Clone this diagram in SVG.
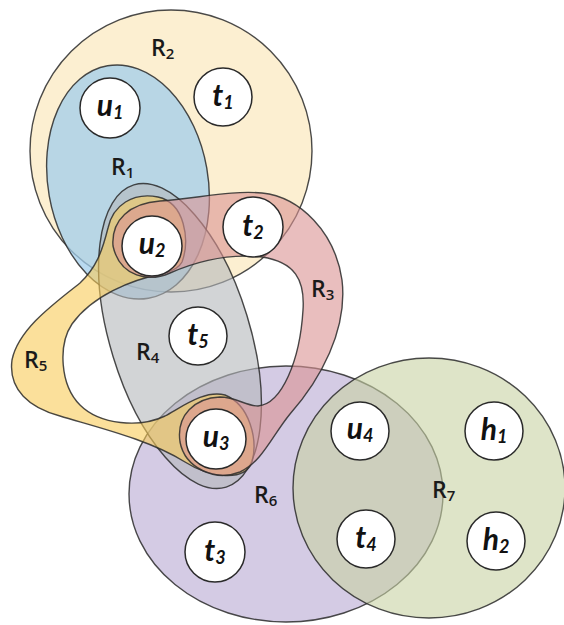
<svg xmlns="http://www.w3.org/2000/svg" width="564" height="625" viewBox="0 0 564 625">
<style>
.reg{stroke:#2a2a2a;stroke-width:1.4;stroke-opacity:0.85;fill-opacity:0.6}
.nd{fill:#ffffff;stroke:#2a2a2a;stroke-width:1.5}
.nl{font-family:Lato,"Open Sans",sans-serif;font-weight:bold;font-style:italic;font-size:30px;fill:#111;text-anchor:middle}
.nl tspan{font-size:18px}
.rl{font-family:"Open Sans",Lato,sans-serif;font-size:23px;font-weight:600;fill:#1a1a1a}
.rl tspan{font-size:15px}
</style>
<rect width="564" height="625" fill="#ffffff"/>
<g id="regions">
<g id="R2"><circle class="reg" cx="171" cy="151" r="141" fill="#fae6b8" style="fill-opacity:0.65"/></g>
<g id="R1"><ellipse class="reg" cx="128" cy="182" rx="80" ry="118" transform="rotate(-10 128 182)" fill="#a1cdeb" style="fill-opacity:0.75"/></g>
<g id="R6"><ellipse class="reg" cx="286" cy="494" rx="157" ry="128" fill="#b7a8d2"/></g>
<g id="R4"><ellipse class="reg" cx="180" cy="336" rx="70" ry="158" transform="rotate(-17 180 336)" fill="#b4b7ba"/></g>
<g id="R5"><path class="reg" fill="#f9cb58" d="M182,262 C190,240 185,203 158,197 C133,192 113,205 108,228 C102,252 96,268 80,283 C52,305 18,330 12,360 C8,390 30,408 60,416 C100,428 150,440 185,462 C210,478 245,482 252,462 C258,440 250,405 225,395 C205,390 185,405 165,416 C140,428 100,425 80,405 C60,385 58,345 72,324 C92,296 130,280 165,273 C175,270 180,266 182,262 Z"/></g>
<g id="R3"><path class="reg" fill="#da9393" d="M113,246 C111,220 130,203 160,201 C195,199 230,190 262,193 C300,197 335,232 342,280 C348,330 320,380 290,414 C272,436 262,462 240,472 C215,482 185,468 180,442 C176,415 195,398 220,397 C236,397 246,406 258,406 C282,404 300,360 303,310 C305,280 295,262 262,257 C225,253 195,262 170,273 C150,282 120,278 113,246 Z"/></g>
<g id="R7"><ellipse class="reg" cx="429" cy="488" rx="136" ry="130" fill="#c8d2a3"/></g>
</g>
<g id="nodes">
<g id="u1"><circle class="nd" cx="110" cy="108" r="30"/><text class="nl" x="110" y="116">u<tspan dy="3">1</tspan></text></g>
<g id="t1"><circle class="nd" cx="223" cy="97" r="29"/><text class="nl" x="223" y="106">t<tspan dy="3">1</tspan></text></g>
<g id="u2"><circle class="nd" cx="152" cy="246" r="30"/><text class="nl" x="152" y="254">u<tspan dy="3">2</tspan></text></g>
<g id="t2"><circle class="nd" cx="253" cy="227" r="30"/><text class="nl" x="253" y="236">t<tspan dy="3">2</tspan></text></g>
<g id="t5"><circle class="nd" cx="198" cy="336" r="29"/><text class="nl" x="198" y="345">t<tspan dy="3">5</tspan></text></g>
<g id="u3"><circle class="nd" cx="216" cy="439" r="30"/><text class="nl" x="216" y="447">u<tspan dy="3">3</tspan></text></g>
<g id="u4"><circle class="nd" cx="360" cy="431" r="29"/><text class="nl" x="360" y="439">u<tspan dy="3">4</tspan></text></g>
<g id="h1"><circle class="nd" cx="494" cy="431" r="29"/><text class="nl" x="494" y="440">h<tspan dy="3">1</tspan></text></g>
<g id="t4"><circle class="nd" cx="366" cy="539" r="29"/><text class="nl" x="366" y="548">t<tspan dy="3">4</tspan></text></g>
<g id="h2"><circle class="nd" cx="496" cy="541" r="29"/><text class="nl" x="496" y="550">h<tspan dy="3">2</tspan></text></g>
<g id="t3"><circle class="nd" cx="215" cy="552" r="30"/><text class="nl" x="215" y="561">t<tspan dy="3">3</tspan></text></g>
</g>
<g id="labels">
<text class="rl" x="151" y="56">R<tspan dy="3">2</tspan></text>
<text class="rl" x="111" y="175">R<tspan dy="3">1</tspan></text>
<text class="rl" x="311" y="297">R<tspan dy="3">3</tspan></text>
<text class="rl" x="136" y="360">R<tspan dy="3">4</tspan></text>
<text class="rl" x="24" y="368">R<tspan dy="3">5</tspan></text>
<text class="rl" x="254" y="503">R<tspan dy="3">6</tspan></text>
<text class="rl" x="432" y="498">R<tspan dy="3">7</tspan></text>
</g>
<g id="connectors"></g>
</svg>
